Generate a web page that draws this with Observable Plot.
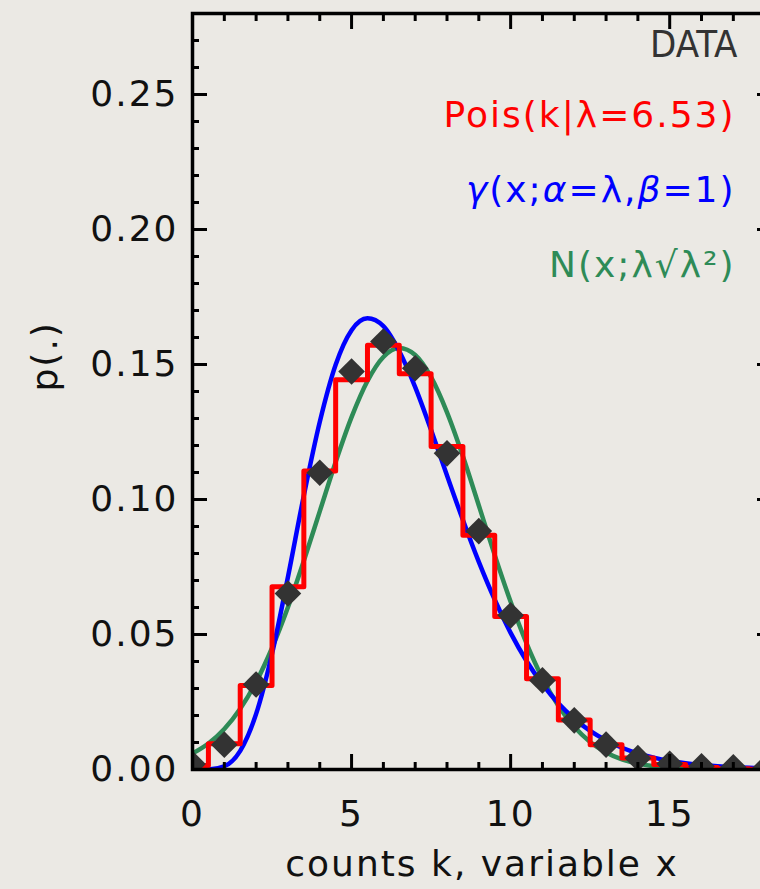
<!DOCTYPE html>
<html>
<head>
<meta charset="utf-8">
<script src="https://cdn.jsdelivr.net/npm/d3@7"></script>
<script src="https://cdn.jsdelivr.net/npm/@observablehq/plot@0.6"></script>
<style>
  html, body { margin: 0; padding: 0; overflow: hidden; background: #ebe9e4; }
  #chart { width: 760px; height: 889px; overflow: hidden; }
  #chart svg { max-width: none !important; display: block; }
</style>
</head>
<body>
<div id="chart"></div>
<script>
// Measured count frequencies (DATA), one per integer count k
const dataK = [0, 1, 2, 3, 4, 5, 6, 7, 8, 9, 10, 11, 12, 13, 14, 15, 16, 17, 18];
const dataP = [0.0020, 0.0092, 0.0315, 0.0652, 0.1099, 0.1474, 0.1585, 0.1486, 0.1171, 0.0883,
               0.0571, 0.0330, 0.0182, 0.0092, 0.0042, 0.0021, 0.0012, 0.0008, 0.0005];

// Poisson probabilities for lambda = 6.53, k = 0..19
const poisK = [0, 1, 2, 3, 4, 5, 6, 7, 8, 9, 10, 11, 12, 13, 14, 15, 16, 17, 18, 19];
const poisP = [0.001459, 0.009527, 0.031106, 0.067708, 0.110533, 0.144356, 0.157107, 0.146560,
               0.119630, 0.086799, 0.056680, 0.033648, 0.018310, 0.009197, 0.004290, 0.001868,
               0.000762, 0.000293, 0.000106, 0.000036];

// Continuous densities sampled every 0.5 in x
const curveX = [0, 0.5, 1, 1.5, 2, 2.5, 3, 3.5, 4, 4.5, 5, 5.5, 6, 6.5, 7, 7.5, 8, 8.5, 9, 9.5,
                10, 10.5, 11, 11.5, 12, 12.5, 13, 13.5, 14, 14.5, 15, 15.5, 16, 16.5, 17, 17.5, 18, 18.5];
const gammaP = [0, 0.00004, 0.00121, 0.00691, 0.0206, 0.0429, 0.0713, 0.1015, 0.1287, 0.1499,
                0.1627, 0.1671, 0.1642, 0.1549, 0.1416, 0.1257, 0.1089, 0.0924, 0.0769, 0.0629,
                0.0506, 0.0402, 0.0316, 0.0245, 0.0188, 0.0143, 0.0108, 0.00805, 0.00597, 0.0044,
                0.00321, 0.00234, 0.00169, 0.00122, 0.00087, 0.00062, 0.00044, 0.00031];
const normalP = [0.00596, 0.00965, 0.0150, 0.0225, 0.0324, 0.0450, 0.0601, 0.0773, 0.0956, 0.1139,
                 0.1305, 0.1439, 0.1528, 0.1561, 0.1535, 0.1453, 0.1323, 0.1160, 0.0978, 0.0794,
                 0.0621, 0.0467, 0.0338, 0.0236, 0.0158, 0.0102, 0.00633, 0.00378, 0.00218, 0.00121,
                 0.00064, 0.00033, 0.00016, 0.00008, 0.00004, 0.00002, 0.00001, 0];

// Axis ticks
const xMajor = [0, 5, 10, 15];
const xMinor = [1, 2, 3, 4, 6, 7, 8, 9, 11, 12, 13, 14, 16, 17, 18];
const yMajor = [0, 0.05, 0.10, 0.15, 0.20, 0.25];
const yMinor = d3.range(0, 29).filter(i => i % 5 !== 0).map(i => i / 100);

// Series labels, top right
const legendText = ["Pois(k|λ=6.53)", "γ(x;α=λ,β=1)", "N(x;λ√λ²)"];
const legendColor = ["#ff0000", "#0000ff", "#2e8b57"];

const dataRows = dataK.map((k, i) => ({k, p: dataP[i]}));
const poisRows = poisK.map((k, i) => ({k, p: poisP[i]}));
const gammaRows = curveX.map((x, i) => ({x, p: gammaP[i]}));
const normalRows = curveX.map((x, i) => ({x, p: normalP[i]}));

// Ticks pointing into the plot: draw them outward, then shift them back by their length
function inwardTicks(axis, anchor, ticks, len) {
  const o = {anchor, tickSize: len, fill: "none", stroke: "#000", strokeWidth: 3, label: null};
  if (anchor === "bottom") o.dy = -len;
  if (anchor === "top") o.dy = len;
  if (anchor === "left") o.dx = len;
  if (anchor === "right") o.dx = -len;
  return axis(ticks, o);
}

// One right-aligned label per series, stacked down from the top-right corner
const legendMarks = legendText.map((t, i) =>
  Plot.text([t], {text: d => d, frameAnchor: "top-right", textAnchor: "end", lineAnchor: "middle",
                  dx: -36, dy: 102 + 75 * i, fill: legendColor[i], fontSize: 36}));

const font = "'DejaVu Sans', sans-serif";

const chart = Plot.plot({
  width: 790,
  height: 889,
  marginLeft: 192,
  marginRight: 19,
  marginTop: 13,
  marginBottom: 120,
  x: {domain: [0, 18.2]},
  y: {domain: [0, 0.28]},
  style: {background: "transparent", fontFamily: font, fontSize: "36px", color: "#111", maxWidth: "none"},
  marks: [
    Plot.line(normalRows, {x: "x", y: "p", stroke: "#2e8b57", strokeWidth: 4.5, curve: "monotone-x", clip: true}),
    Plot.line(gammaRows, {x: "x", y: "p", stroke: "#0000ff", strokeWidth: 4.5, curve: "monotone-x", clip: true}),
    Plot.line(poisRows, {x: "k", y: "p", stroke: "#ff0000", strokeWidth: 5, curve: "step", clip: true}),
    Plot.dot(dataRows, {x: "k", y: "p", symbol: "diamond2", r: 12, fill: "#333", stroke: null, clip: true}),

    Plot.frame({stroke: "#000", strokeWidth: 3.5}),
    inwardTicks(Plot.axisX, "bottom", xMajor, 15),
    inwardTicks(Plot.axisX, "bottom", xMinor, 7),
    inwardTicks(Plot.axisX, "top", xMajor, 15),
    inwardTicks(Plot.axisX, "top", xMinor, 7),
    inwardTicks(Plot.axisY, "left", yMajor, 15),
    inwardTicks(Plot.axisY, "left", yMinor, 7),
    inwardTicks(Plot.axisY, "right", yMajor, 15),
    inwardTicks(Plot.axisY, "right", yMinor, 7),

    Plot.axisX(xMajor, {anchor: "bottom", tickSize: 0, tickPadding: 31, label: null, fill: "#111", fontSize: 36}),
    Plot.axisY(yMajor, {anchor: "left", tickSize: 0, tickPadding: 14, label: null, fill: "#111", fontSize: 36,
                        tickFormat: d3.format(".2f")}),

    Plot.text(["counts k, variable x"], {text: d => d, frameAnchor: "bottom", lineAnchor: "middle", dy: 95,
                                         fill: "#111", fontSize: 36}),
    Plot.text(["p(.)"], {text: d => d, frameAnchor: "left", lineAnchor: "middle", dx: -147, rotate: -90,
                         fill: "#111", fontSize: 36}),

    Plot.text(["DATA"], {text: d => d, frameAnchor: "top-right", textAnchor: "end", lineAnchor: "middle",
                         dx: -34, dy: 31, fill: "#333", fontSize: 38,
                         fontFamily: "'DejaVu Sans Condensed', 'DejaVu Sans', sans-serif"}),
    ...legendMarks
  ]
});

// A little tracking on the wide, rounded lettering (the DATA tag stays tight)
const svg = d3.select(chart);
svg.selectAll("text")
  .filter(function () { return this.textContent !== "DATA"; })
  .style("letter-spacing", "2px");

// Set the Greek parameter symbols of the gamma label in italic, math style
svg.selectAll("text")
  .filter(function () { return this.textContent === legendText[1]; })
  .each(function () {
    const el = d3.select(this);
    const parts = legendText[1].split(/([γαβ])/).filter(s => s.length);
    el.text(null);
    parts.forEach(s => {
      el.append("tspan").attr("font-style", /[γαβ]/.test(s) ? "italic" : null).text(s);
    });
  });

document.getElementById("chart").appendChild(chart);
</script>
</body>
</html>
